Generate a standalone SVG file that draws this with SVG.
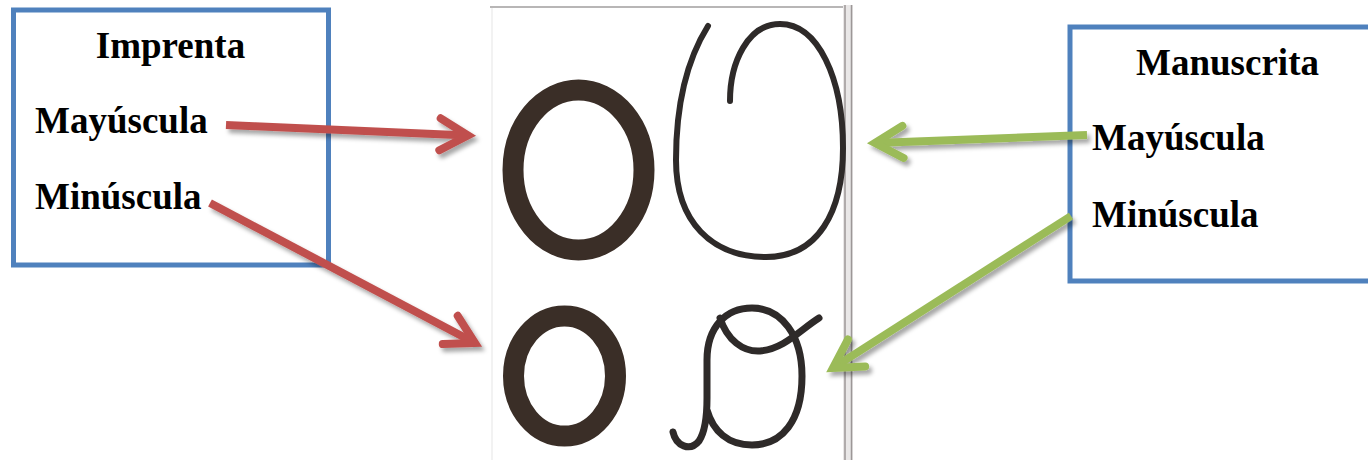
<svg xmlns="http://www.w3.org/2000/svg" width="1368" height="460" viewBox="0 0 1368 460">
  <style>
    .box { fill: #ffffff; stroke: #4F81BD; stroke-width: 5; }
    .lbl { font-family: "Liberation Serif", "Times New Roman", serif; font-weight: bold; font-size: 37px; fill: #000000; }
    .print { fill: none; stroke: #3a2e27; }
    .cursive { fill: none; stroke: #2e2a29; stroke-linecap: round; stroke-linejoin: round; }
    .red { fill: none; stroke: #C0504D; stroke-width: 8; }
    .green { fill: none; stroke: #9BBB59; stroke-width: 8; }
  </style>
  <defs>
    <filter id="shadow" x="-20%" y="-20%" width="140%" height="160%">
      <feDropShadow dx="3" dy="4" stdDeviation="2" flood-color="#000000" flood-opacity="0.35"/>
    </filter>
    <marker id="headRed" markerUnits="userSpaceOnUse" viewBox="-40 -30 50 60" refX="0" refY="0" markerWidth="50" markerHeight="60" orient="auto" overflow="visible">
      <path d="M-28,-16 L0,0 L-28,16" fill="none" stroke="#C0504D" stroke-width="8" stroke-linecap="round" stroke-linejoin="miter"/>
    </marker>
    <marker id="headGreen" markerUnits="userSpaceOnUse" viewBox="-40 -30 50 60" refX="0" refY="0" markerWidth="50" markerHeight="60" orient="auto" overflow="visible">
      <path d="M-28,-16 L0,0 L-28,16" fill="none" stroke="#9BBB59" stroke-width="8" stroke-linecap="round" stroke-linejoin="miter"/>
    </marker>
  </defs>

  <rect width="1368" height="460" fill="#ffffff"/>

  <!-- scanned letters picture -->
  <g id="letters">
    <line x1="490" y1="7" x2="846" y2="7" stroke="#b8b6b6" stroke-width="2"/>
    <line x1="492" y1="8" x2="492" y2="460" stroke="#f2f2f2" stroke-width="2"/>
    <rect x="843" y="5" width="10" height="455" fill="#e9e7e7"/>
    <line x1="845" y1="5" x2="845" y2="460" stroke="#9c9797" stroke-width="1.5"/>
    <line x1="851.5" y1="5" x2="851.5" y2="460" stroke="#9c9797" stroke-width="1.5"/>
    <ellipse class="print" cx="578.5" cy="170" rx="65.5" ry="80" stroke-width="21"/>
    <ellipse class="print" cx="564.5" cy="376" rx="51" ry="60" stroke-width="21"/>
    <path class="cursive" stroke-width="6" d="M708,26 C688,58 676,102 676,160 C676,222 712,257 766,257 C818,257 843,212 843,148 C843,78 818,24 780,24 C748,24 730,62 730,101"/>
    <path class="cursive" stroke-width="7" d="M673,432 C676,446 690,452 699,441 C705,432 707,418 707,398 L707,360 C707,327 726,308 752,308 C782,308 802,336 802,376 C802,421 782,445 752,445 C728,445 713,431 707,410"/>
    <path class="cursive" stroke-width="7" d="M720,318 C727,340 743,352 760,351 C784,349 800,330 819,318"/>
  </g>

  <g id="imprenta">
    <rect class="box" x="13.5" y="10" width="315" height="255"/>
    <text class="lbl" x="170.5" y="58" text-anchor="middle">Imprenta</text>
    <text class="lbl" x="35" y="133">Mayúscula</text>
    <text class="lbl" x="35" y="209">Minúscula</text>
  </g>

  <g id="manuscrita">
    <rect class="box" x="1070" y="27" width="330" height="254"/>
    <text class="lbl" x="1227.5" y="75" text-anchor="middle">Manuscrita</text>
    <text class="lbl" x="1092" y="150">Mayúscula</text>
    <text class="lbl" x="1092" y="227">Minúscula</text>
  </g>

  <g id="connectors" filter="url(#shadow)">
    <line class="red" x1="226" y1="125" x2="468" y2="135.5" marker-end="url(#headRed)"/>
    <line class="red" x1="210" y1="203" x2="475" y2="343" marker-end="url(#headRed)"/>
    <line class="green" x1="1087" y1="135" x2="875" y2="143" marker-end="url(#headGreen)"/>
    <line class="green" x1="1071" y1="216" x2="833" y2="368" marker-end="url(#headGreen)"/>
  </g>
</svg>
